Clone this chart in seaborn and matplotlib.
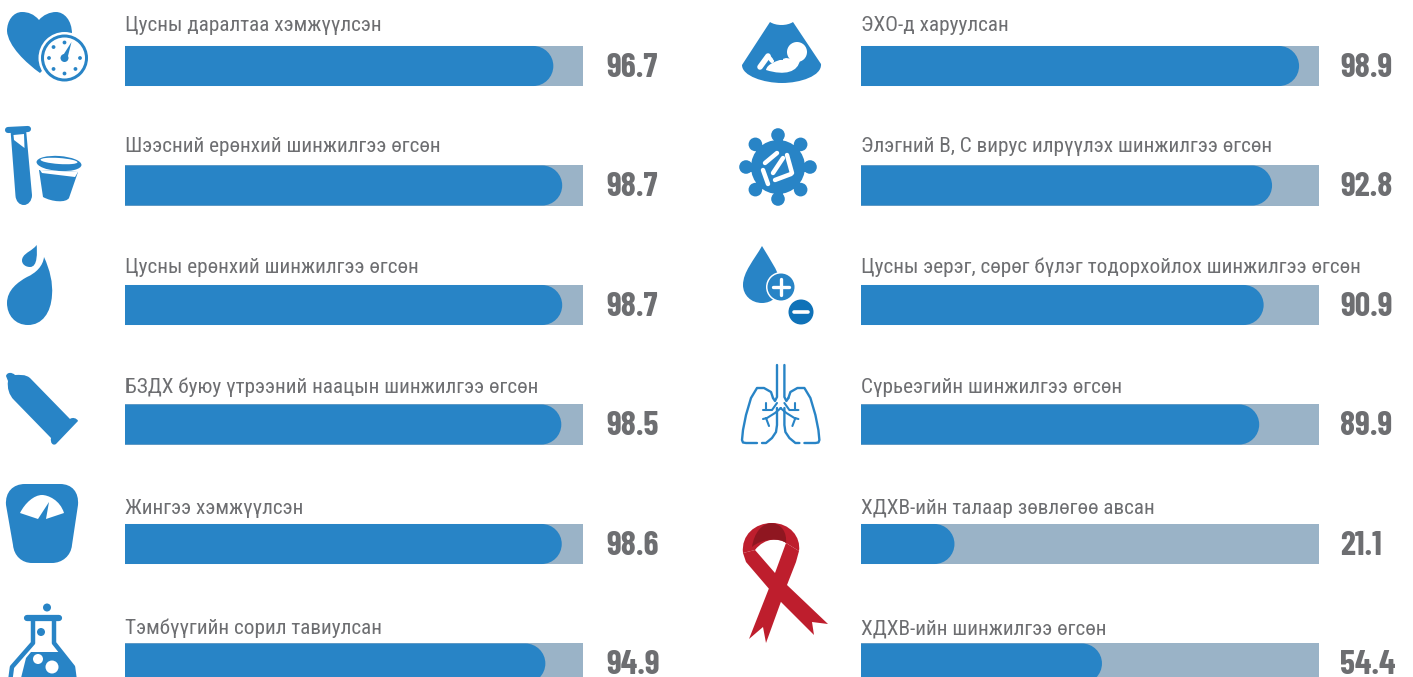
import numpy as np
import pandas as pd
import seaborn as sns
import matplotlib
matplotlib.use('Agg')
import matplotlib.pyplot as plt
from matplotlib.path import Path
from matplotlib.patches import PathPatch, Circle, Ellipse

left_labels = ['Цусны даралтаа хэмжүүлсэн', 'Шээсний ерөнхий шинжилгээ өгсөн',
               'Цусны ерөнхий шинжилгээ өгсөн', 'БЗДХ буюу үтрээний наацын шинжилгээ өгсөн',
               'Жингээ хэмжүүлсэн', 'Тэмбүүгийн сорил тавиулсан']
left_values = [96.7, 98.7, 98.7, 98.5, 98.6, 94.9]
right_labels = ['ЭХО-д харуулсан', 'Элэгний В, С вирус илрүүлэх шинжилгээ өгсөн',
                'Цусны эерэг, сөрөг бүлэг тодорхойлох шинжилгээ өгсөн', 'Сүрьеэгийн шинжилгээ өгсөн',
                'ХДХВ-ийн талаар зөвлөгөө авсан', 'ХДХВ-ийн шинжилгээ өгсөн']
right_values = [98.9, 92.8, 90.9, 89.9, 21.1, 54.4]

BLUE = '#2884c6'
TRACK = '#9ab3c7'
GREY = '#6d6e71'
RED = '#be1e2d'
DARK_RED = '#8f1620'
W, H = 1413, 677
x_max = 103.4

sns.set_theme(style='white')
label_font = ['Roboto Condensed', 'Oswald', 'DejaVu Sans']
value_font = ['Barlow Condensed', 'Roboto Condensed', 'DejaVu Sans']
plt.rcParams['font.family'] = label_font


def rounded_bar(ax, bar, cap_px=20):
    # swap seaborn's square bar for one with a round right end
    x0, y0 = bar.get_x(), bar.get_y()
    w, h = bar.get_width(), bar.get_height()
    rx = cap_px * x_max / 458
    k = 0.5523
    x1 = x0 + w
    y1 = y0 + h
    ym = y0 + h / 2
    verts = [(x0, y0), (x1 - rx, y0),
             (x1 - rx + k * rx, y0), (x1, ym - k * h / 2), (x1, ym),
             (x1, ym + k * h / 2), (x1 - rx + k * rx, y1), (x1 - rx, y1),
             (x0, y1), (x0, y0)]
    codes = [Path.MOVETO, Path.LINETO] + [Path.CURVE4] * 6 + [Path.LINETO, Path.CLOSEPOLY]
    bar.set_visible(False)
    ax.add_patch(PathPatch(Path(verts, codes), fc=BLUE, lw=0, zorder=3))


def draw_column(fig, x_px, labels, values, val_off):
    ax = fig.add_axes([x_px / W, 0, 458 / W, 1])
    df = pd.DataFrame({'label': labels, 'value': values, 'track': [x_max] * len(values)})
    sns.barplot(data=df, y='label', x='track', color=TRACK, saturation=1, width=0.335, lw=0, ax=ax)
    sns.barplot(data=df, y='label', x='value', color=BLUE, saturation=1, width=0.335, lw=0, ax=ax)
    n = len(values)
    for bar in list(ax.patches[n:]):
        rounded_bar(ax, bar)
    ax.set_xlim(0, x_max)
    ax.set_ylim((H - 66) / 119.5, -66 / 119.5)
    ax.axis('off')
    for i, (lab, val) in enumerate(zip(labels, values)):
        ax.text(0.001 * x_max, -0.289 + 1.0092 * i, lab, fontsize=15.3, color=GREY, va='baseline')
        ax.annotate(f'{val:.1f}', xy=(1, i), xycoords=('axes fraction', 'data'),
                    xytext=(val_off * 0.72, -7.9), textcoords='offset points',
                    fontsize=24.5, fontweight='bold', family=value_font, color=GREY, va='baseline',
                    annotation_clip=False)


def shape(start, *segs):
    # segs: 1 point = line, 3 points = bezier
    verts = [start]
    codes = [Path.MOVETO]
    for s in segs:
        verts += list(s)
        codes += [Path.LINETO] if len(s) == 1 else [Path.CURVE4] * 3
    verts.append(start)
    codes.append(Path.CLOSEPOLY)
    return Path(verts, codes)


def fill(ov, path, color=BLUE, z=5):
    ov.add_patch(PathPatch(path, fc=color, lw=0, zorder=z))


def stroke(ov, xs, ys, color='white', lw=3, z=7):
    ov.plot(xs, ys, color=color, lw=lw, solid_capstyle='round', solid_joinstyle='round', zorder=z)


def dot(ov, x, y, r, color=BLUE, z=6):
    ov.add_patch(Circle((x, y), r, fc=color, lw=0, zorder=z))


def heart_icon(ov):
    fill(ov, shape((39, 20), [(34, 14), (28, 12), (22, 12)], [(13, 12), (7, 21), (7, 31)],
                   [(8, 46), (26, 63), (40, 73)], [(52, 60), (72, 50), (72, 34)],
                   [(72, 20), (64, 12), (56, 12)], [(50, 12), (43, 15), (39, 20)]))
    dot(ov, 64.5, 58, 26, 'white')
    dot(ov, 64.5, 58, 23.5, BLUE)
    dot(ov, 64.5, 58, 20.5, 'white')
    for a in np.arange(0, 360, 45):
        if a == 45:
            continue
        dot(ov, 64.5 + 15.5 * np.cos(np.radians(a)), 58 - 15.5 * np.sin(np.radians(a)), 1.9)
    dot(ov, 64.5, 58, 4)
    fill(ov, Path([(62, 57), (71.5, 42), (67.5, 58), (62, 57)]), z=7)


def tube_icon(ov):
    stroke(ov, [8, 28], [130, 129], BLUE, 4.4)
    fill(ov, shape((10.5, 130), [(26, 129)], [(32, 195)], [(32, 201), (28, 205), (24, 205)],
                   [(19, 205), (16, 201), (15.5, 196)]))
    fill(ov, Path([(13.5, 135), (24, 134), (24.5, 148), (14, 140), (13.5, 135)]), 'white', 6)
    fill(ov, shape((39, 170), [(78, 172)], [(69, 198)], [(66, 203), (52, 202), (43, 197)]))
    ov.add_patch(Ellipse((59, 163.5), 45, 15, angle=4, fc=BLUE, lw=0, zorder=6))
    ov.add_patch(Ellipse((59, 161), 37, 6, angle=4, fc='white', lw=0, zorder=7))
    fill(ov, Path([(40, 170), (78, 172), (75, 177), (42, 173), (40, 170)]), 'white', 7)


def drop_icon(ov):
    fill(ov, shape((36.7, 245), [(37, 252), (38, 267), (30, 267)], [(24, 267), (20, 262), (23, 257)],
                   [(26, 252), (32, 251), (36.7, 245)]))
    fill(ov, shape((44, 257), [(50, 270), (53, 283), (52, 295)], [(51, 313), (42, 325), (28, 325)],
                   [(15, 325), (7, 315), (7, 303)], [(7, 290), (18, 282), (27, 277)],
                   [(36, 273), (43, 266), (44, 257)]))


def condom_icon(ov):
    fill(ov, shape((6, 376), [(7, 372), (12, 372), (15, 375)], [(20, 375), (25, 374), (30, 378)],
                   [(70, 419)], [(72, 417), (77, 418), (78, 421)], [(56, 444)],
                   [(53, 446), (50, 443), (51, 438)], [(14, 400)],
                   [(9, 395), (7, 388), (8, 381)]))


def scale_icon(ov):
    fill(ov, shape((25, 484), [(60, 484)], [(72, 484), (79, 492), (78, 505)],
                   [(72, 545)], [(71, 556), (62, 563), (52, 563)], [(32, 563)],
                   [(22, 563), (14, 556), (13, 545)], [(6, 505)],
                   [(5, 492), (13, 484), (25, 484)]))
    fill(ov, shape((20, 513), [(25, 503), (34, 495), (42, 495)], [(48, 495), (60, 500), (64, 513)],
                   [(46, 519)], [(49, 502)], [(38, 519)]), 'white', 6)


def flask_icon(ov):
    dot(ov, 47, 607.5, 4)
    stroke(ov, [27, 59], [618, 618], BLUE, 4.5)
    outline = Path([(33, 619), (33, 643), (12, 667), (10, 682), (75, 682), (73, 667), (54, 643),
                    (54, 619)])
    ov.add_patch(PathPatch(outline, fc='white', ec=BLUE, lw=3.2, joinstyle='round', zorder=5))
    dot(ov, 41, 632, 4)
    fill(ov, Path([(31, 652), (60, 652), (75, 670), (75, 682), (20, 682), (26, 658), (31, 652)]), z=6)
    dot(ov, 38, 659, 5, 'white', 7)
    dot(ov, 52, 667, 6.5, 'white', 7)


def ultrasound_icon(ov):
    fill(ov, shape((770, 22), [(776, 26), (787, 26), (793, 22)], [(821, 64)],
                   [(822, 76), (800, 83), (782, 83)], [(764, 83), (742, 76), (742, 65)]))
    dot(ov, 797, 52, 10, 'white', 7)
    fill(ov, shape((766, 70), [(767, 64), (776, 61), (786, 58)], [(800, 60)],
                   [(798, 72), (785, 76), (766, 70)]), 'white', 7)
    stroke(ov, [760, 768], [67, 56], 'white', 4)
    stroke(ov, [768, 772], [56, 61], 'white', 3)
    fill(ov, Path([(773, 56.5), (783, 57), (783, 60), (773, 59.5), (773, 56.5)]), BLUE, 8)


def virus_icon(ov):
    cx, cy = 778, 167
    dot(ov, cx, cy, 27)
    for a in np.arange(0, 360, 45):
        c, s = np.cos(np.radians(a)), np.sin(np.radians(a))
        stroke(ov, [cx + 20 * c, cx + 32 * c], [cy + 20 * s, cy + 32 * s], BLUE, 6.5, z=5)
        dot(ov, cx + 32 * c, cy + 32 * s, 6.8)
    for xs, ys in [((765, 777), (163, 153)), ((787, 792), (155, 173)), ((775, 791), (180, 174)),
                   ((763, 768), (170, 184)), ((773, 783), (173, 158))]:
        stroke(ov, xs, ys, 'white', 3.2)


def blood_icon(ov):
    fill(ov, shape((762, 246), [(770, 260), (780, 272), (780, 285)], [(780, 296), (772, 303), (762, 303)],
                   [(751, 303), (743, 295), (743, 285)], [(743, 272), (754, 260), (762, 246)]))
    dot(ov, 781, 287, 15, 'white')
    dot(ov, 781, 287, 13.5, BLUE, 7)
    stroke(ov, [773, 789], [287, 287], 'white', 2.4, 8)
    stroke(ov, [781, 781], [279, 295], 'white', 2.4, 8)
    dot(ov, 801, 312, 12.5, '#0f72b8', 7)
    stroke(ov, [794, 808], [312, 312], 'white', 2.6, 8)


def lungs_icon(ov):
    mid = 780.7
    lobe_x = [773, 771, 764, 757, 751, 746, 743, 742, 743, 746, 757]
    lobe_y = [398, 392, 388, 388, 398, 415, 430, 440, 442.5, 443, 443]
    inner_x = [762, 766, 772, 776, 777, 777]
    inner_y = [443, 443, 438, 432, 425, 408]
    branches = [([777, 772, 763], [403, 410, 410]), ([766, 766], [403, 410]),
                ([781, 775, 767, 763], [408, 413, 418, 419]), ([766, 769], [418, 426])]
    for sign in (1, -1):
        fx = lambda xs: [mid + sign * (x - mid) for x in xs]
        stroke(ov, fx([777, 777, 775, 773]), [365, 397, 401, 398], BLUE, 1.7, 5)
        stroke(ov, fx(lobe_x), lobe_y, BLUE, 1.7, 5)
        stroke(ov, fx(inner_x), inner_y, BLUE, 1.7, 5)
        for xs, ys in branches:
            stroke(ov, fx(xs), ys, BLUE, 1.5, 5)


def ribbon_icon(ov):
    # top loop
    fill(ov, shape((743, 553), [(741, 535), (755, 523), (772, 523)], [(790, 523), (801, 537), (799, 551)],
                   [(786, 543)], [(780, 538), (765, 537), (755, 550)]), RED)
    # strand going down to the right
    fill(ov, Path([(743, 553), (746, 562), (770, 590), (782, 603), (814, 635), (812, 622), (828, 624),
                   (787, 585), (775, 573), (755, 550), (743, 553)]), RED)
    # strand going down to the left
    fill(ov, Path([(799, 551), (796, 562), (787, 585), (766, 643), (763, 627), (749, 639), (775, 573),
                   (786, 543), (799, 551)]), RED)
    fill(ov, shape((752, 547), [(754, 533), (762, 523), (772, 523)], [(782, 524), (787, 533), (786, 543)],
                   [(780, 538), (762, 538), (752, 547)]), DARK_RED, 6)


fig = plt.figure(figsize=(W / 100, H / 100), dpi=100, facecolor='white')
draw_column(fig, 125, left_labels, left_values, 23)
draw_column(fig, 861, right_labels, right_values, 21)

overlay = fig.add_axes([0, 0, 1, 1])
overlay.set_xlim(0, W)
overlay.set_ylim(H, 0)
overlay.axis('off')
overlay.patch.set_alpha(0)
for icon in (heart_icon, tube_icon, drop_icon, condom_icon, scale_icon, flask_icon,
             ultrasound_icon, virus_icon, blood_icon, lungs_icon, ribbon_icon):
    icon(overlay)

fig.savefig('out.png', dpi=100)
